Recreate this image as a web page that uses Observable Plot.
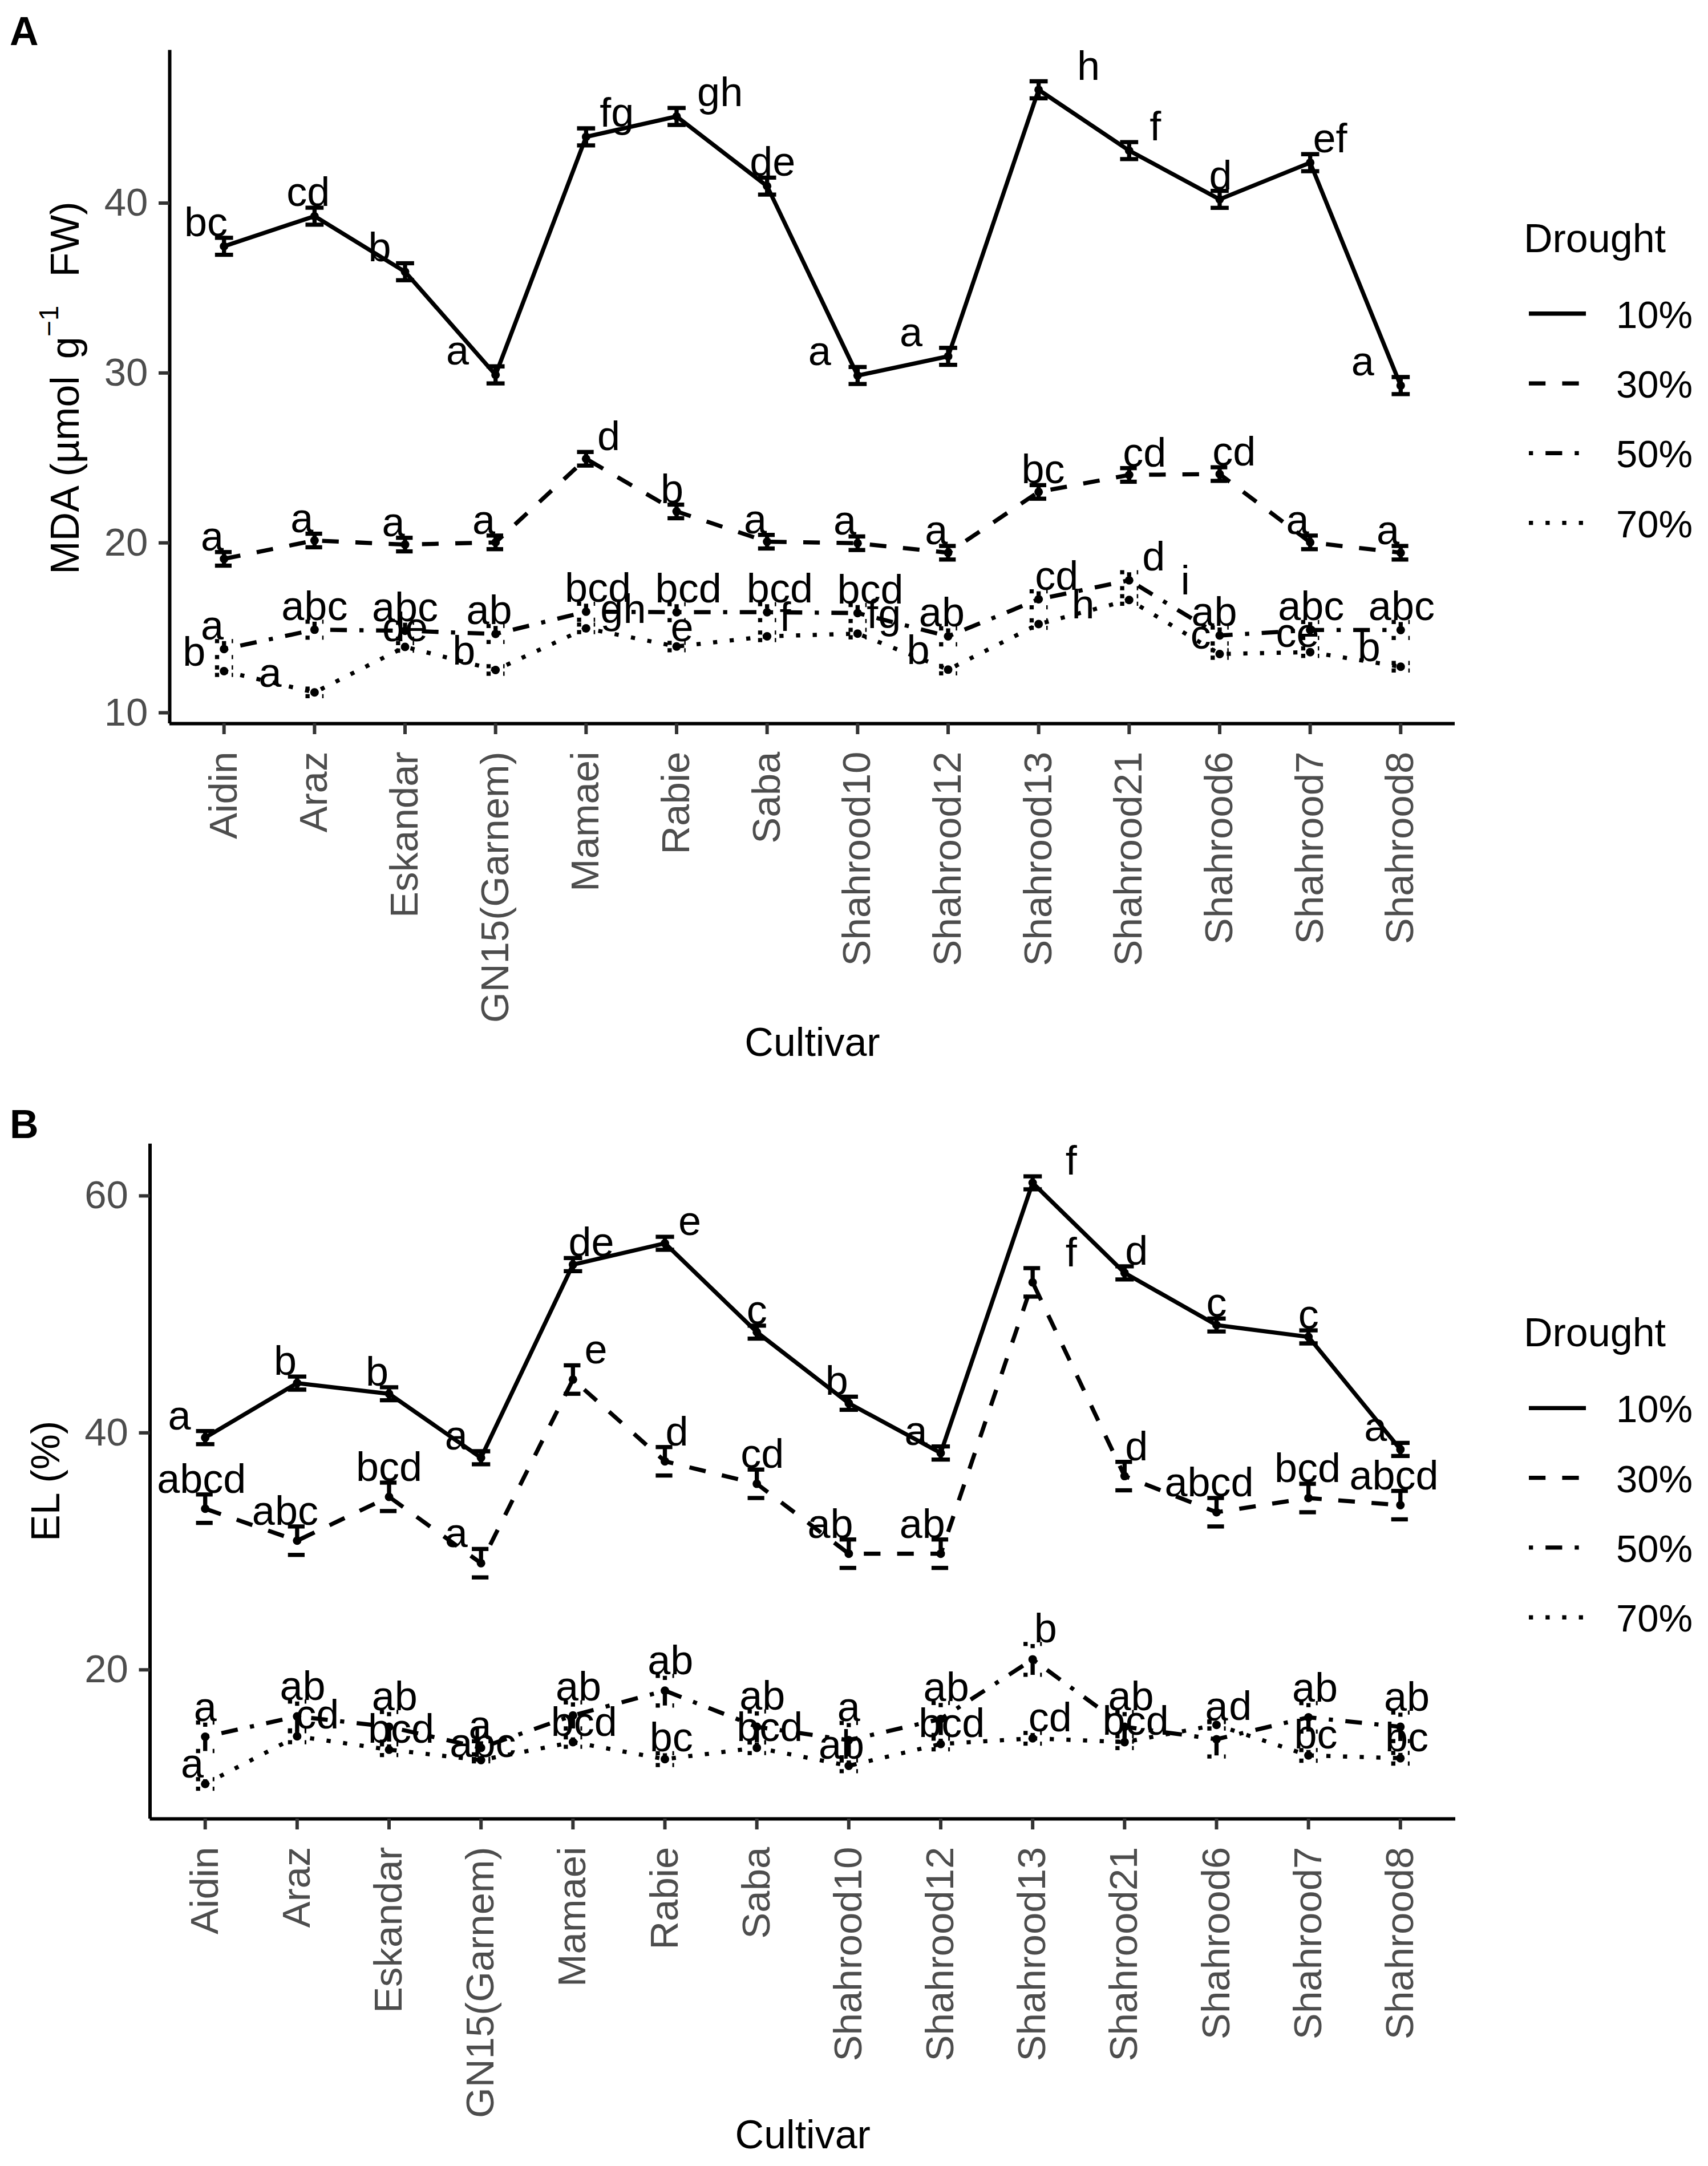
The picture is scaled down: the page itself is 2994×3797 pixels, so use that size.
<!DOCTYPE html>
<html><head><meta charset="utf-8">
<script src="https://cdn.jsdelivr.net/npm/d3@7"></script>
<script src="https://cdn.jsdelivr.net/npm/@observablehq/plot@0.6"></script>
<style>
html,body{margin:0;padding:0;background:#fff;}
#wrap{position:relative;width:2994px;height:3797px;background:#fff;overflow:hidden;}
#wrap svg{position:absolute;left:0;}
</style></head><body><div id="wrap"></div>
<script>
// ---------------- data ----------------
const cultivars = ["Aidin","Araz","Eskandar","GN15(Garnem)","Mamaei","Rabie","Saba","Shahrood10","Shahrood12","Shahrood13","Shahrood21","Shahrood6","Shahrood7","Shahrood8"];
const droughtLevels = ["10%","30%","50%","70%"];

// Panel A: MDA (µmol g-1 FW)
const mdaMean10 = [37.46, 39.23, 35.96, 29.89, 43.90, 45.10, 41.00, 29.85, 30.98, 46.67, 43.09, 40.22, 42.38, 29.26];
const mdaMean30 = [19.06, 20.14, 19.90, 20.03, 24.95, 21.85, 20.07, 19.98, 19.42, 23.00, 24.00, 24.05, 20.03, 19.42];
const mdaMean50 = [13.75, 14.89, 14.83, 14.64, 15.95, 15.92, 15.92, 15.87, 14.50, 16.68, 17.80, 14.55, 14.87, 14.87];
const mdaMean70 = [12.45, 11.20, 13.88, 12.52, 14.97, 13.90, 14.50, 14.66, 12.54, 15.22, 16.64, 13.46, 13.57, 12.71];
const mdaSe10 = [0.50, 0.50, 0.50, 0.50, 0.50, 0.50, 0.50, 0.50, 0.50, 0.50, 0.50, 0.50, 0.50, 0.50];
const mdaSe30 = [0.40, 0.40, 0.40, 0.40, 0.40, 0.40, 0.40, 0.40, 0.40, 0.40, 0.40, 0.40, 0.40, 0.40];
const mdaSe50 = [0.47, 0.47, 0.47, 0.47, 0.47, 0.47, 0.47, 0.47, 0.47, 0.47, 0.47, 0.47, 0.47, 0.47];
const mdaSe70 = [0.22, 0.22, 0.22, 0.22, 0.22, 0.22, 0.22, 0.22, 0.22, 0.22, 0.22, 0.22, 0.22, 0.22];
const mdaLetters10 = ["bc","cd","b","a","fg","gh","de","a","a","h","f","d","ef","a"];
const mdaLetters30 = ["a","a","a","a","d","b","a","a","a","bc","cd","cd","a","a"];
const mdaLetters50 = ["a","abc","abc","ab","bcd","bcd","bcd","bcd","ab","cd","d","ab","abc","abc"];
const mdaLetters70 = ["b","a","de","b","gh","e","f","fg","b","h","i","c","ce","b"];

// Panel B: EL (%)
const elMean10 = [39.6, 44.2, 43.3, 37.9, 54.2, 56.0, 48.5, 42.5, 38.3, 61.1, 53.5, 49.1, 48.1, 38.6];
const elMean30 = [33.6, 30.9, 34.6, 29.0, 44.5, 37.6, 35.7, 29.8, 29.8, 52.7, 36.35, 33.3, 34.5, 33.9];
const elMean50 = [14.35, 16.07, 15.19, 13.42, 16.15, 18.24, 15.19, 14.06, 15.85, 20.88, 15.19, 14.14, 15.99, 15.19];
const elMean70 = [10.37, 14.39, 13.26, 12.38, 13.90, 12.46, 13.42, 11.90, 13.74, 14.22, 13.90, 15.35, 12.78, 12.54];
const elSe10 = [0.55, 0.55, 0.55, 0.55, 0.55, 0.55, 0.55, 0.55, 0.55, 0.55, 0.55, 0.55, 0.55, 0.55];
const elSe30 = [1.20, 1.20, 1.20, 1.20, 1.20, 1.20, 1.20, 1.20, 1.20, 1.20, 1.20, 1.20, 1.20, 1.20];
const elSe50 = [1.20, 1.25, 1.25, 0.55, 1.10, 1.25, 1.30, 1.45, 1.35, 1.30, 1.25, 1.45, 1.20, 1.20];
const elSe70 = [0.40, 0.50, 0.45, 0.10, 0.40, 0.50, 0.45, 0.45, 0.45, 0.45, 0.50, 0.30, 0.45, 0.45];
const elLetters10 = ["a","b","b","a","de","e","c","b","a","f","d","c","c","a"];
const elLetters30 = ["abcd","abc","bcd","a","e","d","cd","ab","ab","f","d","abcd","bcd","abcd"];
const elLetters50 = ["a","ab","ab","a","ab","ab","ab","a","ab","b","ab","a","ab","ab"];
const elLetters70 = ["a","cd","bcd","abc","bcd","bc","bcd","ab","bcd","cd","bcd","d","bc","bc"];

// horizontal nudges of the letter labels (in category units)
const mdaShift10 = [-0.20, -0.07, -0.28, -0.42, 0.34, 0.48, 0.06, -0.42, -0.41, 0.55, 0.29, 0.01, 0.22, -0.42];
const mdaShift30 = [-0.13, -0.14, -0.13, -0.13, 0.25, -0.05, -0.13, -0.14, -0.13, 0.05, 0.17, 0.16, -0.14, -0.14];
const mdaShift50 = [-0.13, 0.00, 0.00, -0.07, 0.13, 0.13, 0.14, 0.14, -0.07, 0.20, 0.27, -0.06, 0.01, 0.01];
const mdaShift70 = [-0.33, -0.49, 0.00, -0.35, 0.41, 0.06, 0.20, 0.29, -0.33, 0.49, 0.62, -0.21, -0.14, -0.35];
const elShift10 = [-0.28, -0.13, -0.13, -0.27, 0.20, 0.27, 0.00, -0.13, -0.27, 0.42, 0.13, 0.00, 0.00, -0.27];
const elShift30 = [-0.04, -0.13, 0.00, -0.27, 0.25, 0.13, 0.06, -0.20, -0.20, 0.42, 0.13, -0.08, -0.01, -0.07];
const elShift50 = [0.00, 0.06, 0.06, -0.01, 0.06, 0.06, 0.06, 0.00, 0.06, 0.14, 0.07, 0.00, 0.07, 0.07];
const elShift70 = [-0.14, 0.22, 0.13, 0.02, 0.12, 0.07, 0.14, -0.08, 0.12, 0.19, 0.12, 0.26, 0.08, 0.07];

const mdaTicks = [10, 20, 30, 40];
const elTicks = [20, 40, 60];

// ---------------- styles ----------------
const FONT = "'Liberation Sans', Arial, Helvetica, sans-serif";
const LW = 7.3;
const dashOf = {"10%": null, "30%": `${4*LW},${4*LW}`, "50%": `${LW},${3*LW},${4*LW},${3*LW}`, "70%": `${LW},${3*LW}`};

function buildRows(means, ses, letters, shifts) {
  const rows = [];
  droughtLevels.forEach((lvl, s) => {
    cultivars.forEach((c, i) => rows.push({level: lvl, i, cultivar: c, mean: means[s][i], se: ses[s][i], letter: letters[s][i], shift: shifts[s][i]}));
  });
  return rows;
}

function makePanel({rows, yDomain, yTicks, height, marginTop, marginBottom, marginLeft, marginRight, xTitleOffset}) {
  const marks = [];
  for (const lvl of droughtLevels) {
    const d = rows.filter(r => r.level === lvl);
    const st = {stroke: "#000", strokeWidth: LW, strokeLinecap: "butt"};
    if (dashOf[lvl]) st.strokeDasharray = dashOf[lvl];
    marks.push(Plot.line(d, {x: "i", y: "mean", ...st, strokeLinejoin: "round"}));
    marks.push(Plot.link(d, {x1: r => r.i - 0.1, x2: r => r.i + 0.1, y1: r => r.mean + r.se, y2: r => r.mean + r.se, ...st}));
    marks.push(Plot.link(d, {x1: "i", x2: "i", y1: r => r.mean + r.se, y2: r => r.mean - r.se, ...st}));
    marks.push(Plot.link(d, {x1: r => r.i - 0.1, x2: r => r.i + 0.1, y1: r => r.mean - r.se, y2: r => r.mean - r.se, ...st}));
    marks.push(Plot.dot(d, {x: "i", y: "mean", r: 7.5, fill: "#000", stroke: "none"}));
  }
  marks.push(Plot.text(rows, {x: r => r.i + r.shift, y: r => r.mean + r.se, text: "letter", dy: -3, lineAnchor: "bottom", textAnchor: "middle", fontSize: 72, fill: "#000"}));
  marks.push(Plot.ruleX([-0.6], {stroke: "#000", strokeWidth: 6}));
  marks.push(Plot.ruleY([yDomain[0]], {stroke: "#000", strokeWidth: 6}));
  marks.push(Plot.axisY(yTicks, {tickSize: 19, tickPadding: 19, fontSize: 69, fill: "#4D4D4D", stroke: "#333333", strokeWidth: 6, label: null}));
  marks.push(Plot.axisX(d3.range(cultivars.length), {tickFormat: i => cultivars[i], tickRotate: -90, tickSize: 19, tickPadding: 30, fontSize: 69, fill: "#4D4D4D", stroke: "#333333", strokeWidth: 6, label: null}));
  marks.push(Plot.text(["Cultivar"], {frameAnchor: "bottom", dy: xTitleOffset, lineAnchor: "bottom", textAnchor: "middle", fontSize: 70, fill: "#000"}));
  return Plot.plot({
    width: 2994, height, marginTop, marginBottom, marginLeft, marginRight,
    x: {type: "linear", domain: [-0.6, cultivars.length - 0.4]},
    y: {domain: yDomain},
    style: {fontFamily: FONT, background: "white", overflow: "visible", color: "#000"},
    marks
  });
}

function addLegend(svg, cy) {
  const g = svg.append("g").attr("font-family", FONT).attr("text-anchor", "start");
  g.append("text").attr("x", 2671).attr("y", cy - 236).attr("font-size", 70).attr("fill", "#000").attr("text-anchor", "start").text("Drought");
  droughtLevels.forEach((lvl, k) => {
    const y = cy - 128 + k * 122.3;
    const ln = g.append("line").attr("x1", 2680).attr("x2", 2780).attr("y1", y).attr("y2", y)
      .attr("stroke", "#000").attr("stroke-width", LW).attr("stroke-linecap", "butt");
    if (dashOf[lvl]) ln.attr("stroke-dasharray", dashOf[lvl]);
    g.append("text").attr("x", 2833).attr("y", y + 25).attr("font-size", 67).attr("fill", "#000").attr("text-anchor", "start").text(lvl);
  });
}

const wrap = document.getElementById("wrap");

// ---------- Panel A ----------
const rowsA = buildRows([mdaMean10, mdaMean30, mdaMean50, mdaMean70], [mdaSe10, mdaSe30, mdaSe50, mdaSe70],
  [mdaLetters10, mdaLetters30, mdaLetters50, mdaLetters70], [mdaShift10, mdaShift30, mdaShift50, mdaShift70]);
const hA = 1900;
const plotA = makePanel({rows: rowsA, yDomain: [9.362, 49.0], yTicks: mdaTicks, height: hA,
  marginTop: 87.5, marginBottom: hA - 1268, marginLeft: 297, marginRight: 2994 - 2550, xTitleOffset: 582});
plotA.style.top = "0px";
wrap.appendChild(plotA);
{
  const svg = d3.select(plotA);
  svg.append("text").attr("x", 17).attr("y", 79).attr("text-anchor", "start").attr("font-family", FONT).attr("font-weight", "bold").attr("font-size", 70).text("A");
  const t = svg.append("text").attr("transform", "translate(138,680) rotate(-90)").attr("text-anchor", "middle")
    .attr("font-family", FONT).attr("font-size", 70).attr("fill", "#000");
  t.append("tspan").text("MDA (µmol");
  t.append("tspan").attr("dx", 30).text("g");
  t.append("tspan").attr("font-size", 48).attr("dy", -36).text("−1");
  t.append("tspan").attr("font-size", 70).attr("dy", 36).attr("dx", 50).text("FW)");
  addLegend(svg, (87.5 + 1268) / 2);
}

// ---------- Panel B ----------
const rowsB = buildRows([elMean10, elMean30, elMean50, elMean70], [elSe10, elSe30, elSe50, elSe70],
  [elLetters10, elLetters30, elLetters50, elLetters70], [elShift10, elShift30, elShift50, elShift70]);
const offB = 1900, hB = 3797 - offB;
const plotB = makePanel({rows: rowsB, yDomain: [7.42, 64.39], yTicks: elTicks, height: hB,
  marginTop: 2004.7 - offB, marginBottom: hB - (3188 - offB), marginLeft: 262.5, marginRight: 2994 - 2551, xTitleOffset: 577});
plotB.style.top = offB + "px";
wrap.appendChild(plotB);
{
  const svg = d3.select(plotB);
  svg.append("text").attr("x", 17).attr("y", 1995 - offB).attr("text-anchor", "start").attr("font-family", FONT).attr("font-weight", "bold").attr("font-size", 70).text("B");
  svg.append("text").attr("transform", `translate(103.5,${(2004.7 + 3188) / 2 - offB}) rotate(-90)`).attr("text-anchor", "middle")
    .attr("font-family", FONT).attr("font-size", 70).attr("fill", "#000").text("EL (%)");
  addLegend(svg, (2004.7 + 3188) / 2 - offB);
}
</script></body></html>
